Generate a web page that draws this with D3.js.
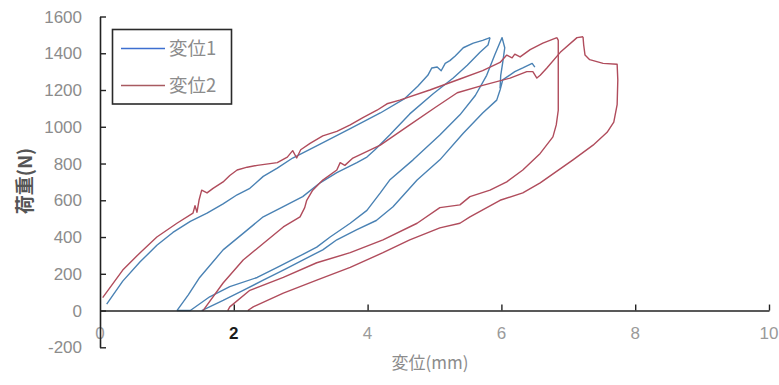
<!DOCTYPE html>
<html>
<head>
<meta charset="utf-8">
<script src="https://cdn.jsdelivr.net/npm/d3@7/dist/d3.min.js"></script>
<style>
  html, body { margin: 0; padding: 0; background: #fff; }
  svg { display: block; }
</style>
</head>
<body>
<svg id="chart" width="779" height="385"></svg>
<script>
// ---- data (displacement mm, load N) ----
const seriesNames = ["変位1", "変位2"];
const xTicks = [0, 2, 4, 6, 8, 10];
const yTicks = [-200, 0, 200, 400, 600, 800, 1000, 1200, 1400, 1600];
const xTitle = "変位(mm)";
const yTitle = "荷重(N)";

// 変位1 (blue)
const blueLoad1 = [[0.10,35],[0.34,160],[0.60,265],[0.85,355],[1.09,425],[1.35,485],[1.60,530],[1.84,580],[2.05,630],[2.24,665],[2.44,730],[2.65,775],[2.88,830],[3.29,905],[3.74,990],[4.19,1075],[4.56,1155],[4.75,1220],[4.90,1280],[4.96,1320],[5.04,1325],[5.10,1305],[5.16,1345],[5.23,1360],[5.31,1385],[5.43,1430],[5.58,1455],[5.72,1470],[5.83,1485]];
const blueUnload1 = [[5.83,1485],[5.80,1445],[5.68,1405],[5.49,1335],[5.28,1265],[4.98,1180],[4.63,1070],[4.33,955],[4.11,875],[3.99,835],[3.84,805],[3.54,750],[3.29,695],[3.03,620],[2.74,565],[2.44,510],[2.14,420],[1.84,330],[1.49,180],[1.32,85],[1.15,0]];
const blueReload2 = [[1.15,0],[1.35,0],[1.64,75],[1.94,130],[2.35,180],[2.65,235],[2.95,290],[3.24,345],[3.44,400],[3.74,475],[3.99,545],[4.19,640],[4.33,710],[4.68,820],[5.08,955],[5.38,1065],[5.61,1170],[5.78,1280],[5.90,1390],[5.98,1460],[6.01,1485],[6.05,1430],[6.02,1350],[5.99,1280],[5.98,1210]];
const blueReload3 = [[1.52,0],[1.84,55],[2.14,110],[2.44,165],[2.74,220],[3.03,275],[3.33,330],[3.54,385],[3.84,440],[4.13,490],[4.38,565],[4.74,710],[5.08,820],[5.43,965],[5.72,1075],[5.93,1145],[5.98,1200],[6.02,1255],[6.20,1300],[6.32,1320],[6.46,1345],[6.50,1325]];

// 変位2 (red)
const redLoad1 = [[0.04,70],[0.34,220],[0.60,315],[0.85,400],[1.15,475],[1.39,530],[1.42,570],[1.45,535],[1.48,600],[1.52,655],[1.60,640],[1.69,665],[1.84,700],[1.94,735],[2.05,765],[2.20,780],[2.35,790],[2.65,805],[2.80,835],[2.88,870],[2.94,830],[3.00,875],[3.14,910],[3.33,950],[3.54,975],[3.74,1010],[3.93,1050],[4.14,1090],[4.29,1125],[4.48,1145],[4.93,1200],[5.38,1260],[5.72,1305],[5.98,1350],[6.08,1390],[6.16,1375],[6.20,1395],[6.28,1380],[6.43,1420],[6.62,1455],[6.83,1485]];
const redUnload1 = [[6.83,1485],[6.85,1470],[6.85,1255],[6.85,1090],[6.82,1010],[6.77,945],[6.58,855],[6.32,765],[6.08,700],[5.83,655],[5.53,620],[5.38,575],[5.08,560],[4.74,475],[4.23,385],[3.74,315],[3.24,260],[2.74,180],[2.24,110],[1.94,20],[1.91,0]];
const redReload2 = [[1.54,0],[1.84,150],[2.14,275],[2.44,365],[2.74,455],[2.99,510],[3.06,560],[3.09,600],[3.18,655],[3.33,710],[3.54,765],[3.59,805],[3.66,790],[3.78,830],[4.19,900],[4.63,1010],[5.01,1105],[5.34,1185],[5.72,1225],[6.13,1265],[6.38,1300],[6.47,1300],[6.53,1265],[6.58,1280],[6.68,1320],[6.88,1405],[7.13,1485],[7.22,1490]];
const redUnload2 = [[7.22,1490],[7.23,1445],[7.25,1390],[7.32,1365],[7.52,1345],[7.73,1340],[7.74,1255],[7.73,1120],[7.68,1025],[7.58,970],[7.37,900],[7.07,820],[6.58,695],[6.32,640],[5.98,600],[5.53,510],[5.38,475],[5.08,450],[4.63,385],[4.23,315],[3.74,235],[3.24,165],[2.74,95],[2.29,20],[2.21,0]];

const series = [
  { name: seriesNames[0], color: "#4a82b4", legendColor: "#3d6fd0", segments: [blueLoad1, blueUnload1, blueReload2, blueReload3] },
  { name: seriesNames[1], color: "#b04c5c", legendColor: "#a85a60", segments: [redLoad1, redUnload1, redReload2, redUnload2] }
];

// ---- layout ----
const svg = d3.select("#chart");
const x = d3.scaleLinear().domain([0, 10]).range([100, 769]);
const y = d3.scaleLinear().domain([-200, 1600]).range([347.3, 16.5]);

const fontNum = "'Liberation Sans', Arial, sans-serif";
const fontJa = "'Noto Sans CJK JP', sans-serif";

// curves
const line = d3.line().x(d => x(d[0])).y(d => y(d[1]));
series.forEach(s => {
  svg.append("g").selectAll("path").data(s.segments).join("path")
    .attr("d", line)
    .attr("fill", "none")
    .attr("stroke", s.color)
    .attr("stroke-width", 1.4)
    .attr("stroke-linejoin", "round");
});

// x axis at y = 0
const xAxis = d3.axisBottom(x).tickValues(xTicks.filter(v => v > 0)).tickSizeInner(-6).tickSizeOuter(0).tickFormat("");
const gx = svg.append("g").attr("transform", `translate(0,${y(0)})`).call(xAxis);
gx.select(".domain").attr("stroke", "#222").attr("stroke-width", 1.6);
gx.selectAll(".tick line").attr("stroke", "#222").attr("stroke-width", 1.4);

// x tick labels
svg.append("g").selectAll("text").data(xTicks).join("text")
  .attr("x", d => x(d))
  .attr("y", 339)
  .attr("text-anchor", "middle")
  .attr("font-family", fontNum)
  .attr("font-size", 17)
  .attr("font-weight", d => d === 2 ? "bold" : "normal")
  .attr("fill", d => d === 2 ? "#1a1a1a" : "#9a9a9a")
  .text(d => d);

// y axis
const yAxis = d3.axisLeft(y).tickValues(yTicks).tickSizeInner(-6).tickSizeOuter(0).tickFormat("");
const gy = svg.append("g").attr("transform", `translate(${x(0)},0)`).call(yAxis);
gy.select(".domain").attr("stroke", "#222").attr("stroke-width", 1.6);
gy.selectAll(".tick line").attr("stroke", "#222").attr("stroke-width", 1.4);

// y tick labels
svg.append("g").selectAll("text").data(yTicks).join("text")
  .attr("x", 82)
  .attr("y", d => y(d) + 6)
  .attr("text-anchor", "end")
  .attr("font-family", fontNum)
  .attr("font-size", 17)
  .attr("fill", "#8c8c8c")
  .text(d => d);

// axis titles
svg.append("text")
  .attr("x", 430).attr("y", 369)
  .attr("text-anchor", "middle")
  .attr("font-family", fontJa)
  .attr("font-size", 17)
  .attr("fill", "#8c8c8c")
  .text(xTitle);

svg.append("text")
  .attr("transform", "translate(32,181) rotate(-90)")
  .attr("text-anchor", "middle")
  .attr("font-family", fontJa)
  .attr("font-size", 19)
  .attr("font-weight", "bold")
  .attr("fill", "#555")
  .text(yTitle);

// legend
const lg = svg.append("g");
lg.append("rect")
  .attr("x", 112.5).attr("y", 29.5).attr("width", 119).attr("height", 74.5)
  .attr("fill", "#fff").attr("stroke", "#2a2a2a").attr("stroke-width", 1.6);
series.forEach((s, i) => {
  const ly = 48.5 + i * 37;
  lg.append("line")
    .attr("x1", 121).attr("x2", 165).attr("y1", ly).attr("y2", ly)
    .attr("stroke", s.legendColor).attr("stroke-width", 1.6);
  lg.append("text")
    .attr("x", 169).attr("y", ly + 6.5)
    .attr("font-family", fontJa)
    .attr("font-size", 18.5)
    .attr("fill", "#8c8c8c")
    .text(s.name);
});
</script>
</body>
</html>
